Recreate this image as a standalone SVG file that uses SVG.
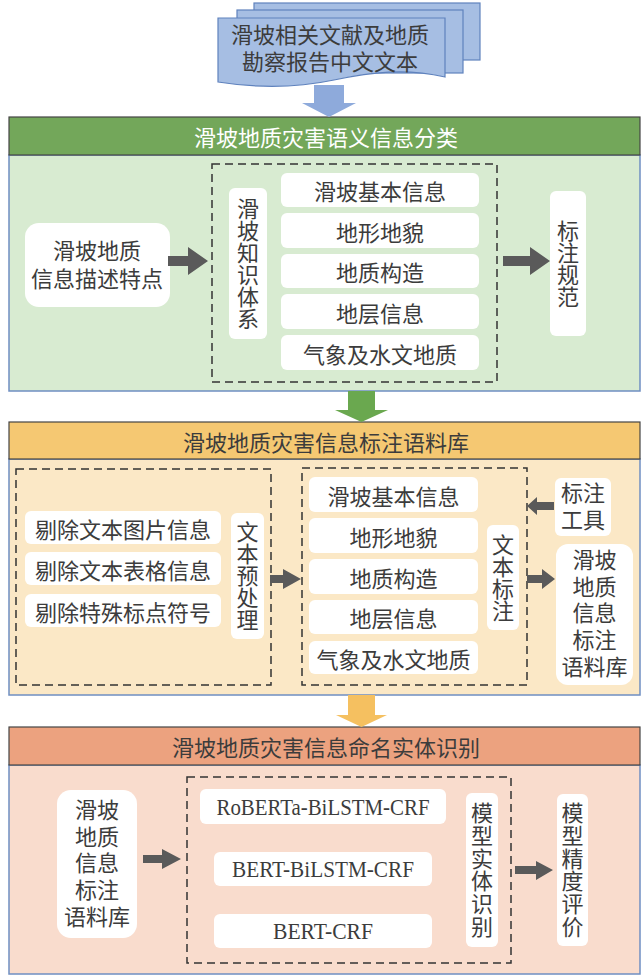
<svg xmlns="http://www.w3.org/2000/svg" width="642" height="978" viewBox="0 0 642 978">
<style>
text{font-family:"Noto Sans CJK SC","Noto Sans",sans-serif;font-size:22px;fill:#3c3c3c;text-anchor:middle;dominant-baseline:central}
.ml{font-family:"Liberation Sans","Noto Sans CJK SC",sans-serif}
.v{writing-mode:vertical-rl;text-orientation:upright}
.hw{fill:#ffffff}
.lat{font-family:"Liberation Serif",serif;font-size:24px}
.box{fill:#ffffff;stroke:none}
.dash{fill:none;stroke:#333;stroke-width:1.5;stroke-dasharray:8 5}
.hdr{stroke:#454545;stroke-width:1.2}
.body{stroke:#6f8fc2;stroke-width:1.5}
.arr{fill:#5a5a5a}
.doc{fill:#a6bee3;stroke:#5f82bd;stroke-width:1.2}
</style>
<rect width="642" height="978" fill="#ffffff"/>

<g id="docs">
<rect class="doc" x="254" y="3" width="226" height="57"/>
<rect class="doc" x="237" y="10" width="226" height="63"/>
<path class="doc" d="M218,18 H445 V77 C405,68 372,72 334,80 C296,88 256,88 218,82 Z"/>
<text class="ml" x="330" y="35"><tspan x="330" y="35">滑坡相关文献及地质</tspan><tspan x="330" y="62">勘察报告中文文本</tspan></text>
</g>

<g id="sec1">
<rect class="body" x="9" y="155" width="631" height="236" fill="#d8ebd1"/>
<rect class="hdr" x="9" y="117" width="631" height="38" fill="#73a75a"/>
<text class="hw" x="326" y="136">滑坡地质灾害语义信息分类</text>
</g>
<g id="n-desc">
<rect class="box" x="25" y="223" width="145" height="84" rx="14"/>
<text class="ml" x="97" y="251"><tspan x="97" y="251">滑坡地质</tspan><tspan x="97" y="279">信息描述特点</tspan></text>
</g>
<g id="g-know">
<rect class="dash" x="212" y="164" width="285" height="218"/>
</g>
<g id="n-know">
<rect class="box" x="229" y="188" width="38" height="151" rx="6"/>
<text class="v" x="248" y="263.5">滑坡知识体系</text>
</g>
<g id="n-k1"><rect class="box" x="281" y="173" width="198" height="34" rx="6"/><text x="380" y="190">滑坡基本信息</text></g>
<g id="n-k2"><rect class="box" x="281" y="213" width="198" height="35" rx="6"/><text x="380" y="230.5">地形地貌</text></g>
<g id="n-k3"><rect class="box" x="281" y="254" width="198" height="34" rx="6"/><text x="380" y="271">地质构造</text></g>
<g id="n-k4"><rect class="box" x="281" y="294" width="198" height="35" rx="6"/><text x="380" y="311.5">地层信息</text></g>
<g id="n-k5"><rect class="box" x="281" y="335" width="198" height="35" rx="6"/><text x="380" y="352.5">气象及水文地质</text></g>
<g id="n-spec">
<rect class="box" x="550" y="191" width="36" height="145" rx="6"/>
<text class="v" x="568" y="263.5">标注规范</text>
</g>

<g id="sec2">
<rect class="body" x="9" y="459" width="631" height="236" fill="#fbe8c6"/>
<rect class="hdr" x="9" y="422" width="631" height="37" fill="#f5c872"/>
<text x="326" y="440.5">滑坡地质灾害信息标注语料库</text>
</g>
<g id="g-pre"><rect class="dash" x="16" y="469" width="255" height="216"/></g>
<g id="n-p1"><rect class="box" x="25" y="511" width="196" height="33" rx="6"/><text x="123" y="527.5">剔除文本图片信息</text></g>
<g id="n-p2"><rect class="box" x="25" y="552" width="196" height="33" rx="6"/><text x="123" y="568.5">剔除文本表格信息</text></g>
<g id="n-p3"><rect class="box" x="25" y="594" width="196" height="33" rx="6"/><text x="123" y="610.5">剔除特殊标点符号</text></g>
<g id="n-pre">
<rect class="box" x="231" y="513" width="33" height="126" rx="6"/>
<text class="v" x="247.5" y="576">文本预处理</text>
</g>
<g id="g-ann"><rect class="dash" x="302" y="468" width="225" height="217"/></g>
<g id="n-a1"><rect class="box" x="309" y="477" width="169" height="35" rx="6"/><text x="393.5" y="494.5">滑坡基本信息</text></g>
<g id="n-a2"><rect class="box" x="309" y="518" width="169" height="35" rx="6"/><text x="393.5" y="535.5">地形地貌</text></g>
<g id="n-a3"><rect class="box" x="309" y="559" width="169" height="35" rx="6"/><text x="393.5" y="576.5">地质构造</text></g>
<g id="n-a4"><rect class="box" x="309" y="600" width="169" height="34" rx="6"/><text x="393.5" y="617">地层信息</text></g>
<g id="n-a5"><rect class="box" x="309" y="641" width="169" height="33" rx="6"/><text x="393.5" y="657.5">气象及水文地质</text></g>
<g id="n-ann">
<rect class="box" x="487" y="525" width="32" height="105" rx="6"/>
<text class="v" x="503" y="577.5">文本标注</text>
</g>
<g id="n-tool">
<rect class="box" x="555" y="478" width="56" height="58" rx="6"/>
<text class="ml" x="583" y="493"><tspan x="583" y="493">标注</tspan><tspan x="583" y="520">工具</tspan></text>
</g>
<g id="n-corpus1">
<rect class="box" x="556" y="544" width="77" height="141" rx="12"/>
<text class="ml" x="594.5" y="560"><tspan x="594.5" y="560">滑坡</tspan><tspan x="594.5" y="587">地质</tspan><tspan x="594.5" y="613">信息</tspan><tspan x="594.5" y="640">标注</tspan><tspan x="594.5" y="667">语料库</tspan></text>
</g>

<g id="sec3">
<rect class="body" x="9" y="765" width="631" height="209" fill="#f9dccd"/>
<rect class="hdr" x="9" y="727" width="631" height="38" fill="#eca27f"/>
<text x="326" y="746">滑坡地质灾害信息命名实体识别</text>
</g>
<g id="n-corpus2">
<rect class="box" x="57" y="790" width="80" height="148" rx="14"/>
<text class="ml" x="97" y="810"><tspan x="97" y="810">滑坡</tspan><tspan x="97" y="837">地质</tspan><tspan x="97" y="863">信息</tspan><tspan x="97" y="890">标注</tspan><tspan x="97" y="917">语料库</tspan></text>
</g>
<g id="g-model"><rect class="dash" x="187" y="777" width="324" height="186"/></g>
<g id="n-m1"><rect class="box" x="200" y="789" width="246" height="35" rx="6"/><text class="lat" x="323" y="806.5" textLength="213" lengthAdjust="spacingAndGlyphs">RoBERTa-BiLSTM-CRF</text></g>
<g id="n-m2"><rect class="box" x="214" y="852" width="218" height="34" rx="6"/><text class="lat" x="323" y="869" textLength="182" lengthAdjust="spacingAndGlyphs">BERT-BiLSTM-CRF</text></g>
<g id="n-m3"><rect class="box" x="214" y="914" width="218" height="34" rx="6"/><text class="lat" x="323" y="931" textLength="100" lengthAdjust="spacingAndGlyphs">BERT-CRF</text></g>
<g id="n-rec">
<rect class="box" x="466" y="793" width="32" height="154" rx="6"/>
<text class="v" x="482" y="870" letter-spacing="0.8">模型实体识别</text>
</g>
<g id="n-eval">
<rect class="box" x="557" y="794" width="31" height="152" rx="6"/>
<text class="v" x="572.5" y="870" letter-spacing="0.8">模型精度评价</text>
</g>

<g id="connectors">
<path fill="#8eaadb" d="M314,85 H344 V103 H356 L329,117 L302,103 H314 Z"/>
<path fill="#6aa84f" d="M348,391 H375 V410 H388 L361.5,422 L335,410 H348 Z"/>
<path fill="#f5c060" d="M348,695 H375 V715 H387 L361.5,727 L336,715 H348 Z"/>
<path class="arr" d="M168,256 H188 V247 L208,261 L188,275 V266 H168 Z"/>
<path class="arr" d="M503,256 H530 V247 L550,261 L530,275 V266 H503 Z"/>
<path class="arr" d="M270,575 H283 V569 L301,579 L283,589 V583 H270 Z"/>
<path class="arr" d="M554,502 H537 V497 L527,506 L537,515 V510 H554 Z"/>
<path class="arr" d="M527,575 H542 V569 L555,579 L542,589 V583 H527 Z"/>
<path class="arr" d="M143,855 H162 V849 L181,859 L162,869 V863 H143 Z"/>
<path class="arr" d="M515,866 H536 V861 L553,870 L536,880 V874 H515 Z"/>
</g>
</svg>
